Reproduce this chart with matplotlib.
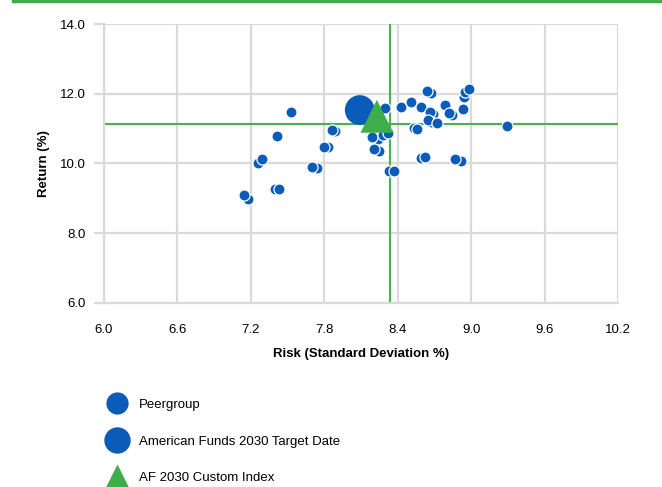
import numpy as np
import matplotlib
matplotlib.use('Agg')
from matplotlib import pyplot as plt
from matplotlib.lines import Line2D

plt.rcParams['font.family'] = ['Liberation Sans Narrow', 'Liberation Sans', 'DejaVu Sans']

# peer group funds (risk %, return %)
peer_risk = [7.18, 7.14, 7.26, 7.29, 7.40, 7.43, 7.41, 7.53, 7.74, 7.70, 7.83, 7.80,
             7.89, 7.86, 8.24, 8.19, 8.25, 8.21, 8.28, 8.32, 8.30, 8.33, 8.37, 8.43,
             8.51, 8.53, 8.56, 8.59, 8.59, 8.62, 8.67, 8.64, 8.69, 8.66, 8.67, 8.65,
             8.72, 8.79, 8.84, 8.82, 8.92, 8.87, 8.93, 8.94, 8.95, 8.98, 9.29]
peer_return = [8.99, 9.10, 10.02, 10.12, 9.25, 9.26, 10.79, 11.48, 9.88, 9.89, 10.46, 10.46,
               10.94, 10.96, 10.70, 10.75, 10.35, 10.40, 10.80, 10.86, 11.59, 9.79, 9.79, 11.61,
               11.76, 11.01, 11.00, 11.61, 10.14, 10.19, 12.02, 12.07, 11.42, 11.48, 11.18, 11.24,
               11.15, 11.67, 11.40, 11.44, 10.06, 10.12, 11.56, 11.90, 12.04, 12.13, 11.08]

fund_name = 'American Funds 2030 Target Date'
fund_risk, fund_return = 8.09, 11.53
index_name = 'AF 2030 Custom Index'
index_risk, index_return = 8.23, 11.35

# reference cross lines
cross_risk, cross_return = 8.34, 11.13

x_ticks = [6.0, 6.6, 7.2, 7.8, 8.4, 9.0, 9.6, 10.2]
y_ticks = [6.0, 8.0, 10.0, 12.0, 14.0]

blue = '#0a5cb8'
green = '#3dae49'
line_green = '#4caf50'
grid_gray = '#dadada'

fig = plt.figure(figsize=(6.62, 4.87), dpi=100)
ax = fig.add_axes([0.1571, 0.3785, 0.7764, 0.5722])

ax.scatter(peer_risk, peer_return, s=64, color=blue, edgecolors='white',
           linewidths=0.9, zorder=3)
ax.scatter([fund_risk], [fund_return], s=460, color=blue, edgecolors='none', zorder=4)
ax.scatter([index_risk], [index_return], s=560, marker='^', color=green,
           edgecolors='none', zorder=5)

ax.axvline(cross_risk, color=line_green, lw=1.5, zorder=2)
ax.axhline(cross_return, color=line_green, lw=1.5, zorder=2)

ax.set_xlim(6.0, 10.2)
ax.set_ylim(6.0, 14.0)
ax.set_xticks(x_ticks)
ax.set_yticks(y_ticks)
ax.set_xticklabels(['%.1f' % v for v in x_ticks])
ax.set_yticklabels(['%.1f' % v for v in y_ticks])
ax.grid(True, color=grid_gray, lw=1.6, zorder=0)
ax.set_axisbelow(True)

for side in ['top', 'right']:
    ax.spines[side].set_visible(False)
for side in ['left', 'bottom']:
    ax.spines[side].set_color(grid_gray)
    ax.spines[side].set_linewidth(1.6)

ax.tick_params(axis='y', length=7, width=1.6, color=grid_gray, pad=6, labelsize=9.5)
ax.tick_params(axis='x', length=0, pad=15, labelsize=9.5)

ax.set_xlabel('Risk (Standard Deviation %)', fontweight='bold', fontsize=9.5, labelpad=9)
ax.set_ylabel('Return (%)', fontweight='bold', fontsize=9.5, labelpad=7)

handles = [
    Line2D([], [], marker='o', ls='', ms=16, color=blue, mec='none'),
    Line2D([], [], marker='o', ls='', ms=19, color=blue, mec='none'),
    Line2D([], [], marker='^', ls='', ms=19, color=green, mec='none'),
]
labels = ['Peergroup', fund_name, index_name]
fig.legend(handles, labels, loc='upper left', bbox_to_anchor=(0.154, 0.192),
           frameon=False, fontsize=9.5, labelspacing=1.85, handletextpad=0.9,
           handlelength=1.5, borderaxespad=0)

# green bar at top
fig.add_artist(Line2D([0.02, 1.0], [0.997, 0.997], color=green, lw=2.5,
                      transform=fig.transFigure))

fig.savefig('out.png', dpi=100)
